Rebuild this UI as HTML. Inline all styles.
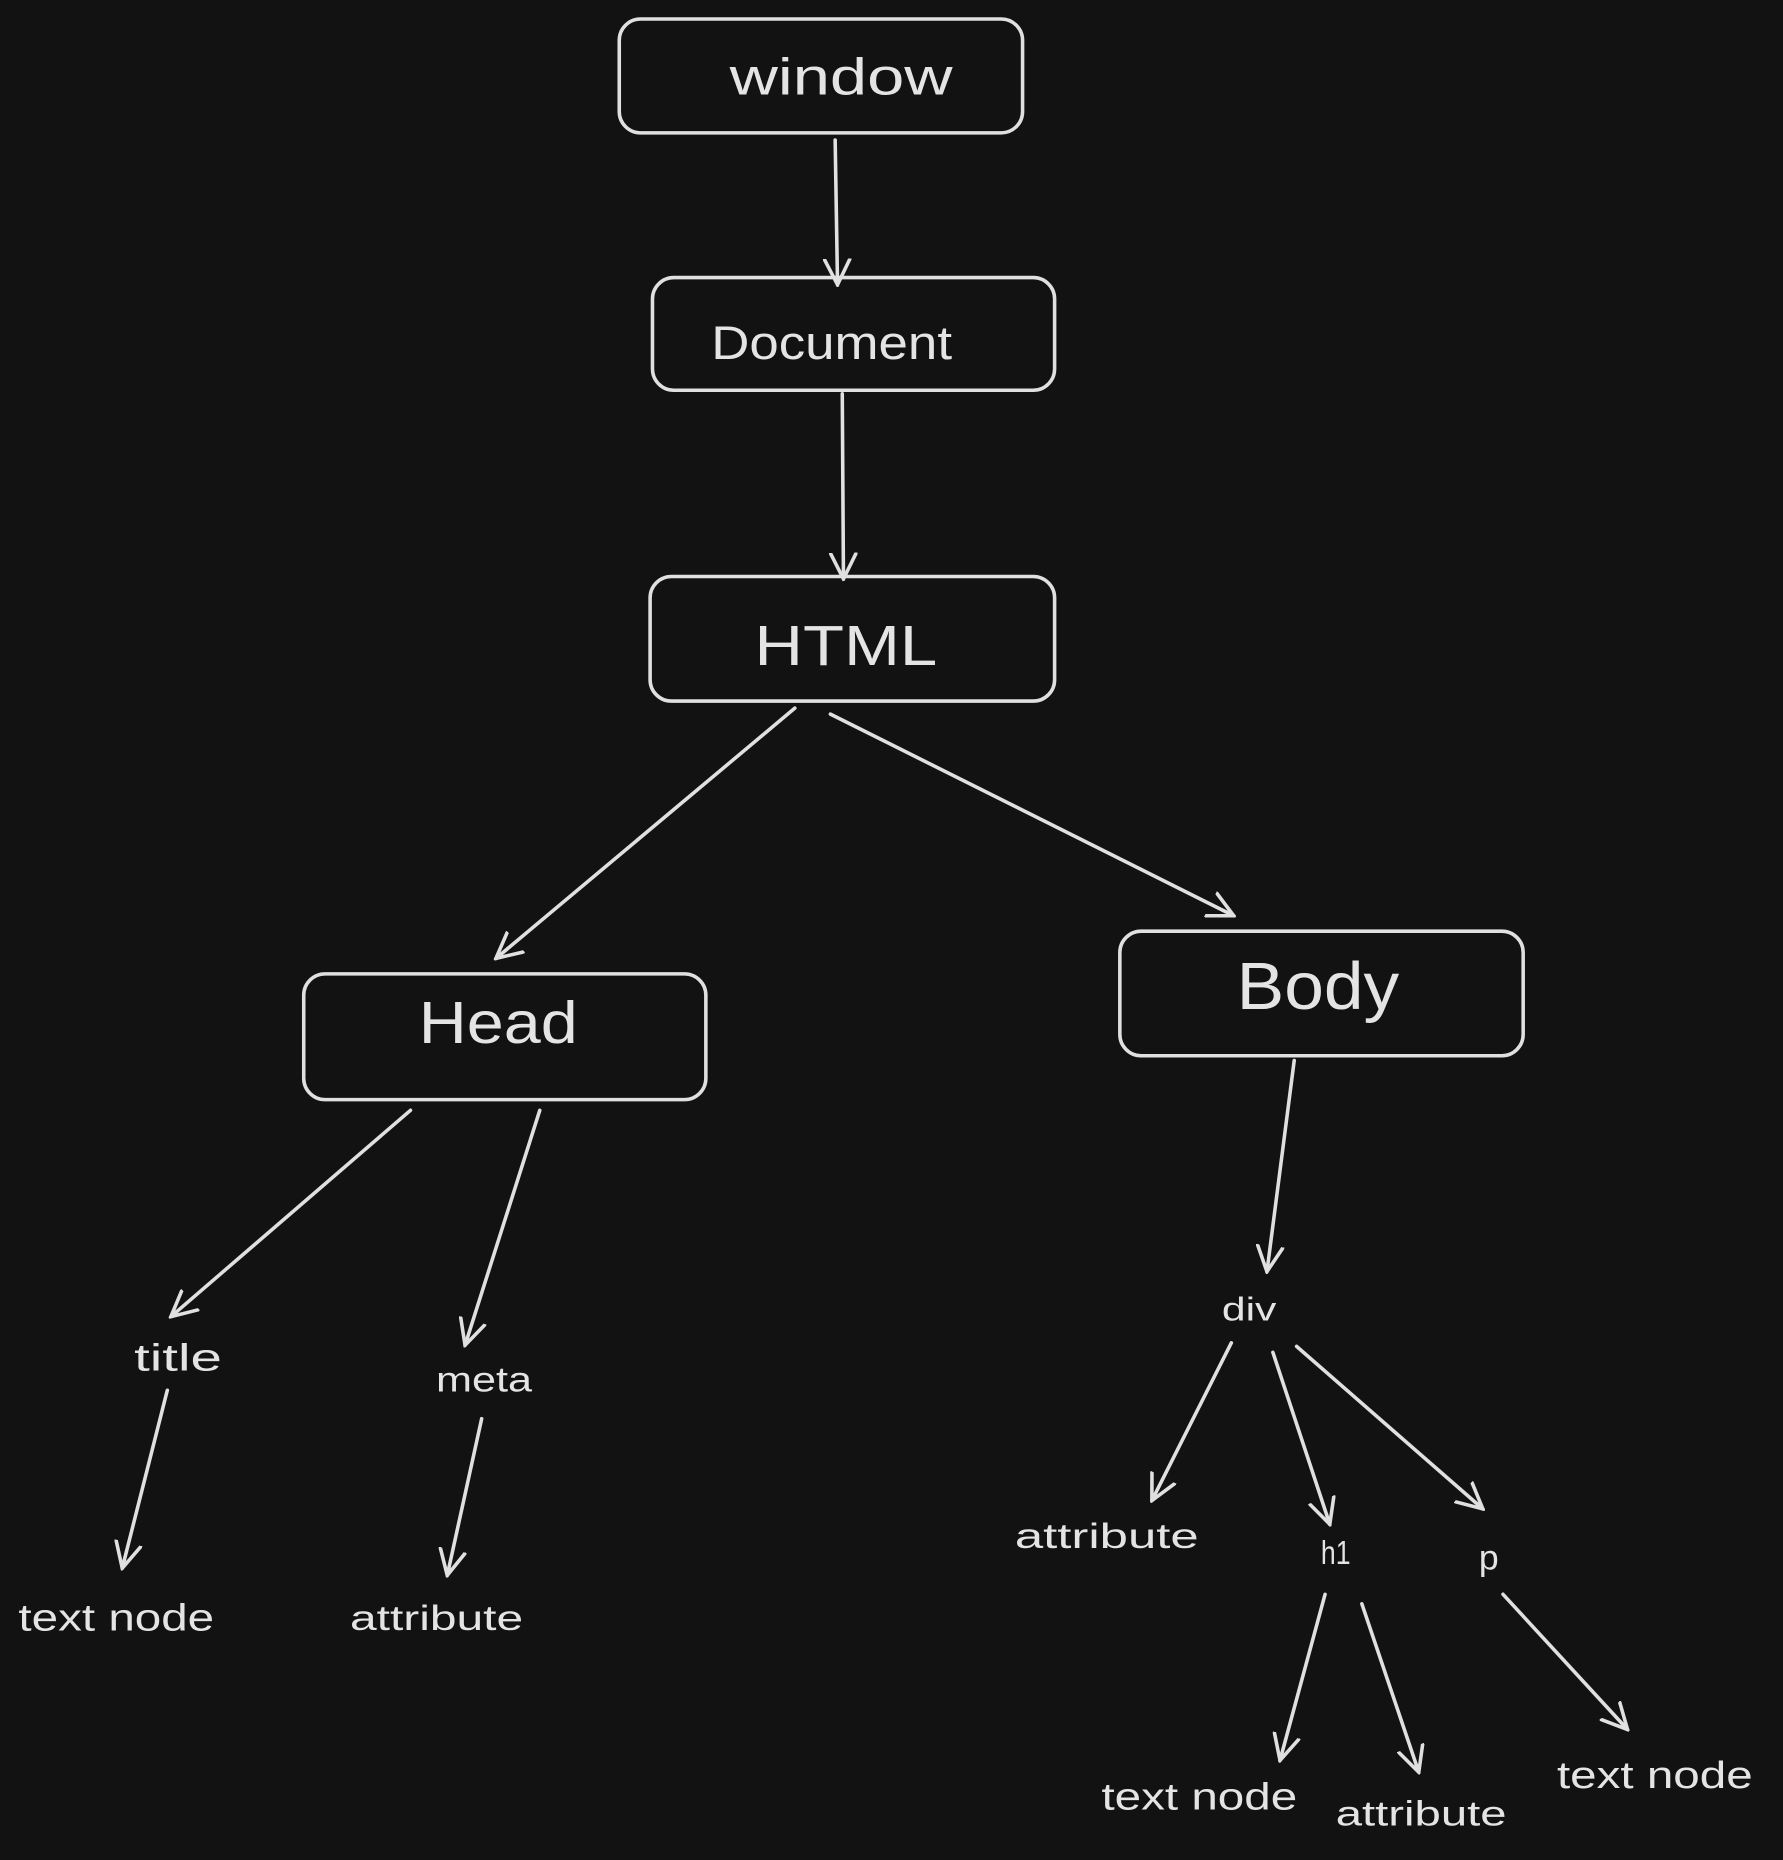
<!DOCTYPE html>
<html><head><meta charset="utf-8"><style>
html,body{margin:0;padding:0;background:#121212;}
svg{display:block}
text{font-family:"Liberation Sans",sans-serif;fill:#e4e4e4;text-anchor:middle;dominant-baseline:middle;}
</style></head><body>
<svg width="1783" height="1860" viewBox="0 0 1503 1568" xmlns="http://www.w3.org/2000/svg">
<defs>
<marker id="a" viewBox="0 0 24 24" refX="22" refY="12" markerWidth="24" markerHeight="24" markerUnits="userSpaceOnUse" orient="auto">
<path d="M0,1 L22,12 L0,23" fill="none" stroke="#e0e0e0" stroke-width="3" stroke-linecap="round"/>
</marker>
</defs>
<rect width="1503" height="1568" fill="#121212"/>
<g fill="none" stroke="#e0e0e0" stroke-width="3">
<rect x="522" y="16" width="340" height="96" rx="18"/>
<rect x="550" y="234" width="339" height="95" rx="18"/>
<rect x="548" y="486" width="341" height="105" rx="18"/>
<rect x="256" y="821" width="339" height="106" rx="18"/>
<rect x="944" y="785" width="340" height="105" rx="18"/>
</g>
<g stroke="#e0e0e0" stroke-width="3" stroke-linecap="round" marker-end="url(#a)">
<line x1="704" y1="118" x2="706" y2="240"/>
<line x1="710" y1="332" x2="711" y2="488"/>
<line x1="670" y1="597" x2="418" y2="808"/>
<line x1="700" y1="602" x2="1040" y2="772"/>
<line x1="1091" y1="894" x2="1068" y2="1072"/>
<line x1="346" y1="936" x2="144" y2="1110"/>
<line x1="455" y1="936" x2="392" y2="1134"/>
<line x1="141" y1="1172" x2="103" y2="1322"/>
<line x1="406" y1="1196" x2="377" y2="1328"/>
<line x1="1038" y1="1132" x2="971" y2="1265"/>
<line x1="1073" y1="1140" x2="1121" y2="1285"/>
<line x1="1093" y1="1135" x2="1250" y2="1272"/>
<line x1="1117" y1="1344" x2="1079" y2="1484"/>
<line x1="1148" y1="1352" x2="1196" y2="1494"/>
<line x1="1267" y1="1344" x2="1372" y2="1458"/>
</g>
<g lengthAdjust="spacingAndGlyphs">
<text x="709" y="68" font-size="44" textLength="188" lengthAdjust="spacingAndGlyphs">window</text>
<text x="701" y="292" font-size="40" textLength="203" lengthAdjust="spacingAndGlyphs">Document</text>
<text x="713" y="548" font-size="48" textLength="154" lengthAdjust="spacingAndGlyphs">HTML</text>
<text x="420" y="866" font-size="50" textLength="134" lengthAdjust="spacingAndGlyphs">Head</text>
<text x="1111" y="836" font-size="56" textLength="137" lengthAdjust="spacingAndGlyphs">Body</text>
<text x="150" y="1147" font-size="32" textLength="74" lengthAdjust="spacingAndGlyphs">title</text>
<text x="408" y="1165" font-size="30" textLength="81" lengthAdjust="spacingAndGlyphs">meta</text>
<text x="98" y="1366" font-size="32" textLength="165" lengthAdjust="spacingAndGlyphs">text node</text>
<text x="368" y="1366" font-size="30" textLength="146" lengthAdjust="spacingAndGlyphs">attribute</text>
<text x="1053" y="1106" font-size="28" textLength="46" lengthAdjust="spacingAndGlyphs">div</text>
<text x="933" y="1297" font-size="30" textLength="155" lengthAdjust="spacingAndGlyphs">attribute</text>
<text x="1126" y="1311" font-size="28" textLength="25" lengthAdjust="spacingAndGlyphs">h1</text>
<text x="1255" y="1315" font-size="30">p</text>
<text x="1011" y="1517" font-size="32" textLength="165" lengthAdjust="spacingAndGlyphs">text node</text>
<text x="1198" y="1531" font-size="30" textLength="144" lengthAdjust="spacingAndGlyphs">attribute</text>
<text x="1395" y="1499" font-size="32" textLength="165" lengthAdjust="spacingAndGlyphs">text node</text>
</g>
</svg>
</body></html>
